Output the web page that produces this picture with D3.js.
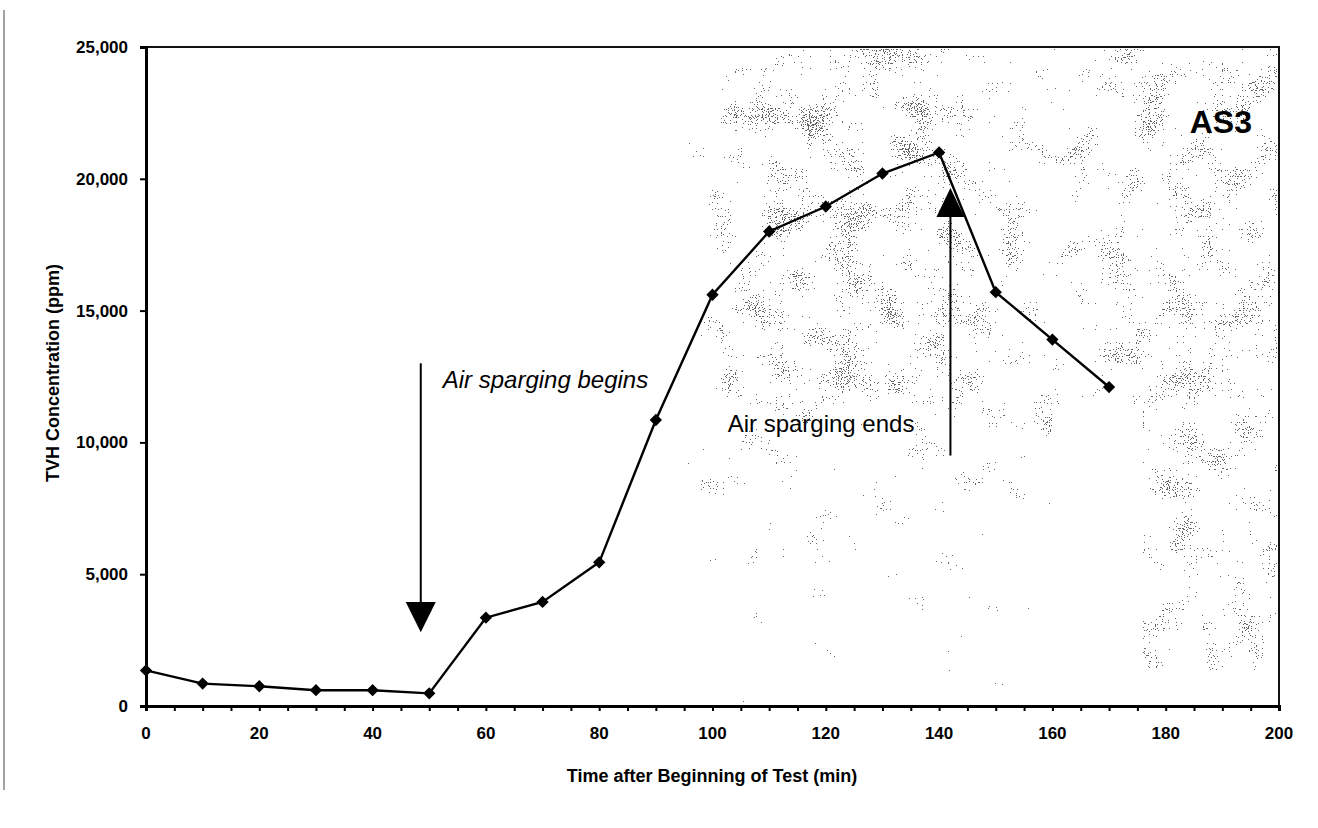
<!DOCTYPE html>
<html>
<head>
<meta charset="utf-8">
<script src="https://cdn.jsdelivr.net/npm/d3@7"></script>
<style>
  body { margin: 0; background: #fff; }
  svg { display: block; font-family: "Liberation Sans", Arial, sans-serif; }
</style>
</head>
<body>
<div id="chart"></div>
<script>
// --- Données
const times = [0, 10, 20, 30, 40, 50, 60, 70, 80, 90, 100, 110, 120, 130, 140, 150, 160, 170];
const tvh = [1350, 850, 750, 600, 600, 480, 3350, 3950, 5450, 10850, 15600, 18000, 18950, 20200, 21000, 15700, 13900, 12100];
const xTicks = [0, 20, 40, 60, 80, 100, 120, 140, 160, 180, 200];
const yTicks = [0, 5000, 10000, 15000, 20000, 25000];
const beginAt = 48.5;
const endAt = 142;

const width = 1318, height = 828;
const margin = { top: 47, right: 39, bottom: 122, left: 146 };

const svg = d3.select("#chart").append("svg")
  .attr("width", width)
  .attr("height", height);

const x = d3.scaleLinear().domain([0, 200]).range([margin.left, width - margin.right]);
const y = d3.scaleLinear().domain([0, 25000]).range([height - margin.bottom, margin.top]);

// --- Texture de scan (filtre SVG, densité donnée par un dégradé)
const defs = svg.append("defs");

function gradient(id, stops, vertical) {
  const g = defs.append("linearGradient").attr("id", id)
    .attr("x1", 0).attr("y1", 0)
    .attr("x2", vertical ? 0 : 1).attr("y2", vertical ? 1 : 0);
  stops.forEach(([o, a]) => g.append("stop").attr("offset", o)
    .attr("stop-color", "#000").attr("stop-opacity", a));
}
gradient("bandA", [[0, 0.45], [0.15, 0.95], [0.7, 0.95], [1, 0.7]], false);
gradient("bandA2", [[0, 0.75], [0.5, 0.6], [1, 0.4]], true);
gradient("bandB", [[0, 0.7], [0.35, 0.9], [1, 0.9]], false);
gradient("bandB2", [[0, 0.9], [0.8, 0.85], [1, 0.6]], true);

const f = defs.append("filter").attr("id", "speck")
  .attr("x", 0).attr("y", 0).attr("width", 1).attr("height", 1);
f.append("feTurbulence").attr("type", "fractalNoise").attr("baseFrequency", 0.85)
  .attr("numOctaves", 1).attr("seed", 2).attr("result", "fine");
f.append("feColorMatrix").attr("in", "fine").attr("type", "matrix")
  .attr("values", "0 0 0 0 0  0 0 0 0 0  0 0 0 0 0  1 0 0 0 0").attr("result", "fa");
f.append("feTurbulence").attr("type", "fractalNoise").attr("baseFrequency", 0.03)
  .attr("numOctaves", 2).attr("seed", 5).attr("result", "coarse");
f.append("feColorMatrix").attr("in", "coarse").attr("type", "matrix")
  .attr("values", "0 0 0 0 0  0 0 0 0 0  0 0 0 0 0  1 0 0 0 0").attr("result", "ca");
f.append("feComposite").attr("in", "fa").attr("in2", "ca").attr("operator", "arithmetic")
  .attr("k1", 0).attr("k2", 0.5).attr("k3", 0.25).attr("k4", 0).attr("result", "s1");
f.append("feComposite").attr("in", "s1").attr("in2", "SourceAlpha").attr("operator", "arithmetic")
  .attr("k1", 0).attr("k2", 1).attr("k3", 0.15).attr("k4", 0.127).attr("result", "s2");
const ct = f.append("feComponentTransfer").attr("in", "s2").attr("result", "th");
ct.append("feFuncA").attr("type", "discrete")
  .attr("tableValues", "0 0 0 0 0 0 0 0 0 0 0 0 0 0 0 1 1 1 1 1");
f.append("feFlood").attr("flood-color", "#666").attr("result", "fl");
f.append("feComposite").attr("in", "fl").attr("in2", "th").attr("operator", "in");

const speck = svg.append("g");
speck.append("rect")
  .attr("x", x(95)).attr("y", y(25000) + 2)
  .attr("width", x(160) - x(95)).attr("height", y(11500) - y(25000))
  .attr("fill", "url(#bandA)").attr("filter", "url(#speck)");
speck.append("rect")
  .attr("x", x(95)).attr("y", y(11500))
  .attr("width", x(160) - x(95)).attr("height", y(0) - y(11500) - 4)
  .attr("fill", "url(#bandA2)").attr("filter", "url(#speck)");
speck.append("rect")
  .attr("x", x(160)).attr("y", y(25000) + 2)
  .attr("width", x(200) - x(160) - 2).attr("height", y(11500) - y(25000))
  .attr("fill", "url(#bandB)").attr("filter", "url(#speck)");
speck.append("rect")
  .attr("x", x(176)).attr("y", y(11500))
  .attr("width", x(200) - x(176) - 2).attr("height", y(0) - y(11500) - 12)
  .attr("fill", "url(#bandB2)").attr("filter", "url(#speck)");

// --- bord gauche du scan
svg.append("line")
  .attr("x1", 4).attr("x2", 4).attr("y1", 10).attr("y2", 790)
  .attr("stroke", "#444").attr("stroke-width", 1);

// --- Cadre
svg.append("rect")
  .attr("x", x(0)).attr("y", y(25000))
  .attr("width", x(200) - x(0)).attr("height", y(0) - y(25000))
  .attr("fill", "none").attr("stroke", "#111").attr("stroke-width", 2);

// --- Axe X
const xAxis = svg.append("g")
  .attr("transform", `translate(0,${y(0)})`)
  .call(d3.axisBottom(x).tickValues(d3.range(0, 201, 5)).tickSize(5).tickFormat(""));
xAxis.select(".domain").attr("stroke-width", 3);
xAxis.selectAll(".tick line").attr("stroke-width", 2);

svg.append("g").selectAll("text")
  .data(xTicks)
  .join("text")
  .attr("x", d => x(d))
  .attr("y", y(0) + 33)
  .attr("text-anchor", "middle")
  .attr("font-size", 17)
  .attr("font-weight", "bold")
  .text(d => d);

// --- Axe Y
const yAxis = svg.append("g")
  .attr("transform", `translate(${x(0)},0)`)
  .call(d3.axisLeft(y).tickValues(yTicks).tickSize(6).tickFormat(""));
yAxis.select(".domain").attr("stroke-width", 3);
yAxis.selectAll(".tick line").attr("stroke-width", 2);

svg.append("g").selectAll("text")
  .data(yTicks)
  .join("text")
  .attr("x", x(0) - 18)
  .attr("y", d => y(d) + 6)
  .attr("text-anchor", "end")
  .attr("font-size", 17)
  .attr("font-weight", "bold")
  .text(d => d3.format(",")(d));

// --- Titres des axes
svg.append("text")
  .attr("x", 712)
  .attr("y", 782)
  .attr("text-anchor", "middle")
  .attr("font-size", 18)
  .attr("font-weight", "bold")
  .text("Time after Beginning of Test (min)");

svg.append("text")
  .attr("transform", `translate(59,373) rotate(-90)`)
  .attr("text-anchor", "middle")
  .attr("font-size", 18)
  .attr("font-weight", "bold")
  .text("TVH Concentration (ppm)");

// --- Courbe
const data = times.map((t, i) => ({ t, v: tvh[i] }));
svg.append("path")
  .datum(data)
  .attr("fill", "none")
  .attr("stroke", "#000")
  .attr("stroke-width", 2.4)
  .attr("d", d3.line().x(d => x(d.t)).y(d => y(d.v)));

svg.append("g").selectAll("path")
  .data(data)
  .join("path")
  .attr("transform", d => `translate(${x(d.t)},${y(d.v)}) rotate(45)`)
  .attr("d", d3.symbol(d3.symbolSquare, 76))
  .attr("fill", "#000");

// --- Flèche début
const bx = x(beginAt);
svg.append("line")
  .attr("x1", bx).attr("x2", bx)
  .attr("y1", y(13000)).attr("y2", y(3900))
  .attr("stroke", "#000").attr("stroke-width", 2);
svg.append("path")
  .attr("d", `M${bx - 15},${y(3950)} L${bx + 15},${y(3950)} L${bx},${y(2800)} Z`)
  .attr("fill", "#000");
svg.append("text")
  .attr("x", bx + 22)
  .attr("y", y(12050))
  .attr("font-size", 24)
  .attr("font-style", "italic")
  .text("Air sparging begins");

// --- Flèche fin
const ex = x(endAt);
svg.append("line")
  .attr("x1", ex).attr("x2", ex)
  .attr("y1", y(9500)).attr("y2", y(18600))
  .attr("stroke", "#000").attr("stroke-width", 2);
svg.append("path")
  .attr("d", `M${ex - 14},${y(18550)} L${ex + 14},${y(18550)} L${ex},${y(19650)} Z`)
  .attr("fill", "#000");
svg.append("text")
  .attr("x", ex - 36)
  .attr("y", y(10400))
  .attr("text-anchor", "end")
  .attr("font-size", 24)
  .text("Air sparging ends");

// --- Étiquette AS3
svg.append("text")
  .attr("x", 1252)
  .attr("y", 133)
  .attr("text-anchor", "end")
  .attr("font-size", 32)
  .attr("font-weight", "bold")
  .text("AS3");
</script>
</body>
</html>
